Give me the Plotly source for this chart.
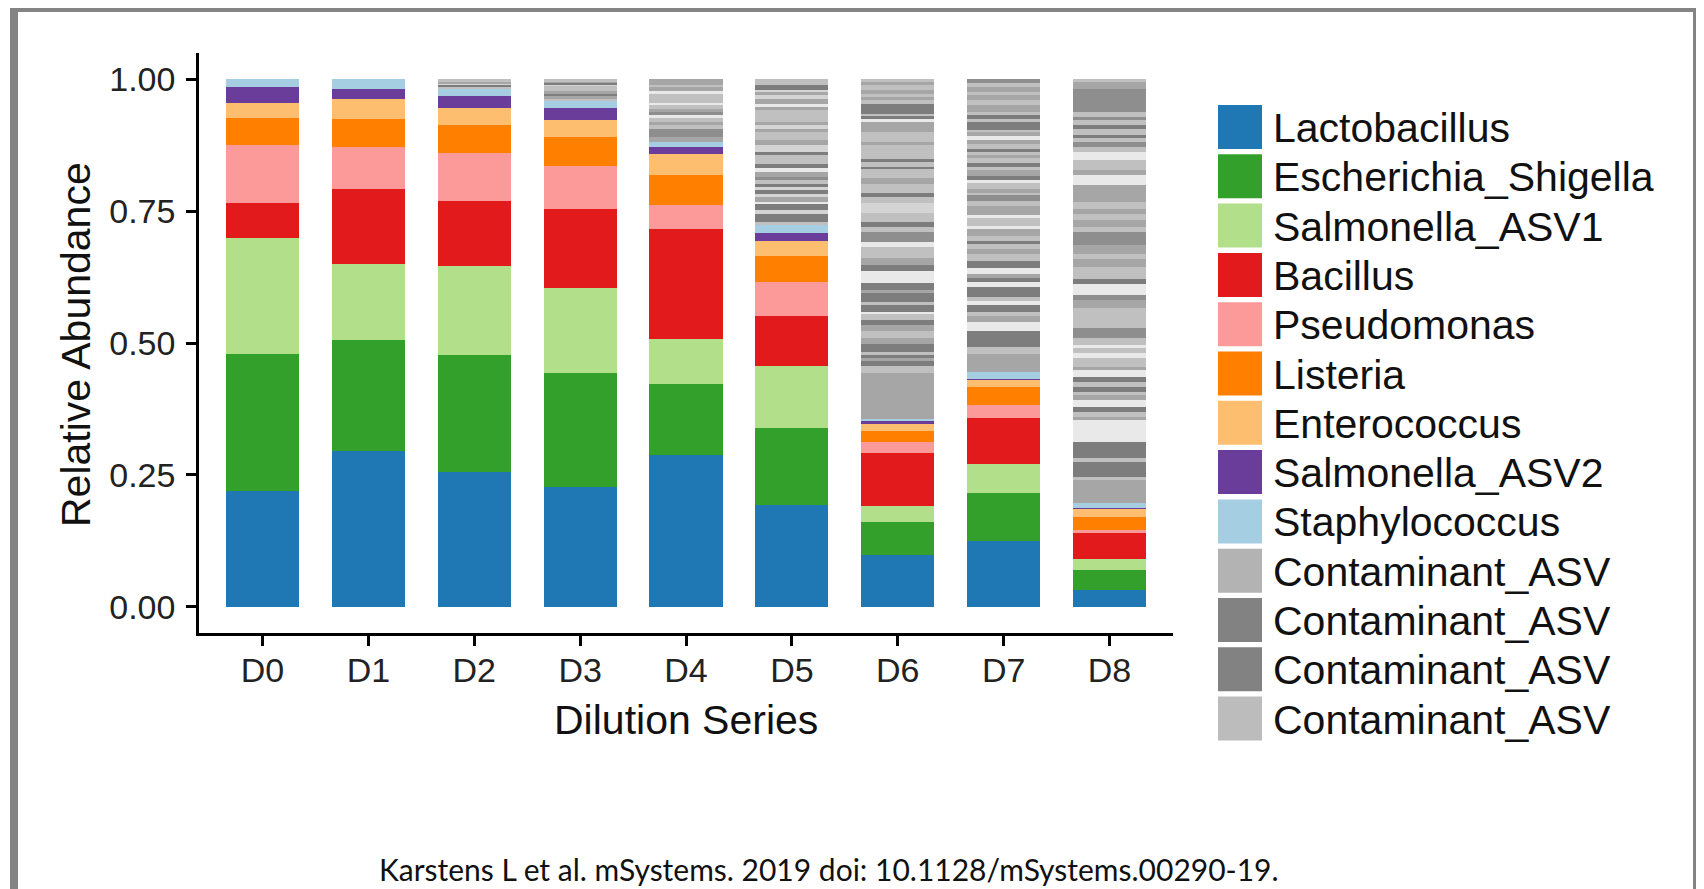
import plotly.graph_objects as go

# ---------------- data ----------------
categories = ["D0", "D1", "D2", "D3", "D4", "D5", "D6", "D7", "D8"]

taxa_names = ["Lactobacillus", "Escherichia_Shigella", "Salmonella_ASV1", "Bacillus",
              "Pseudomonas", "Listeria", "Enterococcus", "Salmonella_ASV2", "Staphylococcus"]
taxa_colors = ["#1F78B4", "#33A02C", "#B2DF8A", "#E31A1C",
               "#FB9A99", "#FF7F00", "#FDBF6F", "#6A3D9A", "#A6CEE3"]

lactobacillus        = [0.220, 0.296, 0.255, 0.226, 0.288, 0.193, 0.097, 0.124, 0.031]
escherichia_shigella = [0.260, 0.210, 0.222, 0.218, 0.134, 0.145, 0.063, 0.091, 0.039]
salmonella_asv1      = [0.219, 0.144, 0.169, 0.160, 0.086, 0.119, 0.030, 0.055, 0.020]
bacillus             = [0.066, 0.143, 0.123, 0.151, 0.208, 0.095, 0.101, 0.087, 0.049]
pseudomonas          = [0.111, 0.079, 0.092, 0.080, 0.045, 0.063, 0.022, 0.025, 0.006]
listeria             = [0.051, 0.053, 0.052, 0.056, 0.058, 0.050, 0.021, 0.035, 0.025]
enterococcus         = [0.028, 0.038, 0.032, 0.031, 0.039, 0.028, 0.013, 0.013, 0.016]
salmonella_asv2      = [0.031, 0.019, 0.024, 0.024, 0.013, 0.016, 0.006, 0.002, 0.001]
staphylococcus       = [0.014, 0.018, 0.013, 0.013, 0.010, 0.014, 0.003, 0.013, 0.009]

# total share of all contaminant ASVs per sample
contaminant_share = [0.0, 0.0, 0.018, 0.041, 0.119, 0.277, 0.644, 0.555, 0.804]

# contaminant ASV stripes, bottom to top: (relative height, grey shade code)
stripes_D2 = [(9, 'l'), (5, 'k'), (4, 'p'), (6, 'm'), (6, 'l')]
stripes_D3 = [(7, 'l'), (8, 'm'), (7, 'k'), (10, 'm'), (15, 'l'), (7, 'p'), (5, 'k'), (5, 'm'), (6, 'l')]
stripes_D4 = [(15, 'm'), (25, 'd'), (10, 'l'), (10, 'm'), (12, 'l'), (8, 'w'), (10, 'd'), (10, 'm'),
              (10, 'l'), (8, 'w'), (27, 'l'), (8, 'w'), (15, 'm'), (4, 'l'), (16, 'm')]
stripes_D5 = [(10, 'l'), (25, 'k'), (10, 'p'), (20, 'k'), (5, 'w'), (15, 'm'), (10, 'p'), (10, 'k'),
              (10, 'p'), (10, 'k'), (10, 'l'), (10, 'd'), (15, 'm'), (12, 'w'), (13, 'k'), (27, 'l'),
              (8, 'k'), (20, 'p'), (15, 'm'), (25, 'l'), (10, 'm'), (10, 'p'), (10, 'm'), (35, 'l'),
              (10, 'm'), (10, 'w'), (15, 'm'), (10, 'p'), (10, 'm'), (7, 'p'), (13, 'k'), (18, 'l')]
stripes_D6 = [(138, 'm'), (20, 'l'), (15, 'k'), (10, 'm'), (10, 'k'), (7, 'l'), (26, 'k'), (17, 'm'),
              (20, 'l'), (20, 'm'), (15, 'k'), (20, 'l'), (5, 'w'), (20, 'k'), (10, 'l'), (25, 'k'),
              (10, 'm'), (20, 'k'), (37, 'w'), (18, 'k'), (20, 'm'), (35, 'l'), (15, 'w'), (30, 'd'),
              (15, 'l'), (15, 'k'), (25, 'l'), (30, 'p'), (20, 'l'), (10, 'k'), (27, 'l'), (18, 'm'),
              (28, 'l'), (7, 'k'), (15, 'l'), (10, 'k'), (40, 'l'), (10, 'm'), (30, 'l'), (30, 'm'),
              (10, 'w'), (8, 'k'), (7, 'l'), (30, 'k'), (10, 'l'), (10, 'm'), (10, 'l'), (10, 'm'),
              (15, 'l'), (10, 'm'), (8, 'l')]
stripes_D7 = [(55, 'm'), (20, 'l'), (50, 'k'), (25, 'w'), (20, 'm'), (10, 'l'), (23, 'k'), (12, 'w'),
              (10, 'l'), (32, 'k'), (16, 'w'), (12, 'k'), (10, 'm'), (20, 'w'), (20, 'k'), (20, 'l'),
              (15, 'm'), (15, 'l'), (10, 'k'), (15, 'l'), (20, 'm'), (10, 'w'), (25, 'l'), (10, 'w'),
              (25, 'm'), (15, 'l'), (18, 'd'), (7, 'l'), (13, 'm'), (17, 'l'), (10, 'w'), (10, 'k'),
              (20, 'm'), (10, 'l'), (10, 'k'), (15, 'l'), (10, 'm'), (10, 'l'), (8, 'k'), (14, 'l'),
              (13, 'm'), (13, 'w'), (10, 'm'), (7, 'l'), (23, 'k'), (10, 'l'), (12, 'k'), (10, 'l'),
              (20, 'm'), (15, 'l'), (15, 'm'), (10, 'l'), (15, 'm'), (13, 'l'), (10, 'd')]
stripes_D8 = [(70, 'm'), (10, 'l'), (45, 'k'), (10, 'l'), (50, 'k'), (65, 'w'), (10, 'm'), (15, 'l'),
              (15, 'k'), (20, 'w'), (15, 'm'), (10, 'l'), (15, 'k'), (15, 'l'), (15, 'k'), (20, 'w'),
              (10, 'm'), (25, 'l'), (15, 'w'), (15, 'l'), (10, 'w'), (20, 'l'), (30, 'd'), (60, 'l'),
              (25, 'm'), (15, 'd'), (35, 'w'), (15, 'k'), (35, 'l'), (25, 'm'), (15, 'l'), (25, 'm'),
              (40, 'd'), (15, 'l'), (20, 'm'), (20, 'l'), (15, 'm'), (20, 'l'), (50, 'm'), (30, 'w'),
              (15, 'm'), (30, 'l'), (25, 'w'), (15, 'l'), (15, 'd'), (12, 'l'), (10, 'k'), (18, 'l'),
              (10, 'k'), (15, 'l'), (10, 'd'), (15, 'l'), (70, 'd'), (20, 'm'), (8, 'l')]

shade_colors = {'k': '#7d7d7d', 'd': '#8e8e8e', 'm': '#a6a6a6',
                'l': '#c0c0c0', 'p': '#d4d4d4', 'w': '#e9e9e9'}

legend_labels = taxa_names + ["Contaminant_ASV"] * 4
legend_colors = taxa_colors + ["#b3b3b3", "#828282", "#828282", "#bcbcbc"]

y_tick_values = [0.0, 0.25, 0.50, 0.75, 1.00]
y_tick_labels = ["0.00", "0.25", "0.50", "0.75", "1.00"]

caption = "Karstens L et al. mSystems. 2019 doi: 10.1128/mSystems.00290-19."

# ---------------- figure ----------------
W, H = 1704, 889
OFF = 8                      # page body margin shifts the figure by 8 px
ML, MT = 199 - OFF, 53 - OFF
MR, MB = W - (1173 - OFF), H - (633 - OFF)
PW, PH = W - ML - MR, H - MT - MB
FONT = "Liberation Sans, Arial, sans-serif"
BAR_W = 0.69


def px_x(px):
    # px given in page (screenshot) coordinates
    return (px - OFF - ML) / PW


def px_y(py):
    return (H - MB - (py - OFF)) / PH


taxa_values = [lactobacillus, escherichia_shigella, salmonella_asv1, bacillus,
               pseudomonas, listeria, enterococcus, salmonella_asv2, staphylococcus]

fig = go.Figure()
for name, vals, col in zip(taxa_names, taxa_values, taxa_colors):
    fig.add_trace(go.Bar(x=categories, y=vals, name=name, width=BAR_W,
                         marker=dict(color=col, line=dict(width=0)), showlegend=False))

contaminant_stripes = [("D2", stripes_D2), ("D3", stripes_D3), ("D4", stripes_D4),
                       ("D5", stripes_D5), ("D6", stripes_D6), ("D7", stripes_D7),
                       ("D8", stripes_D8)]
for cat, stripes in contaminant_stripes:
    total = contaminant_share[categories.index(cat)]
    s = sum(h for h, _ in stripes)
    for h, code in stripes:
        fig.add_trace(go.Bar(x=[cat], y=[total * h / s], name="Contaminant_ASV", width=BAR_W,
                             marker=dict(color=shade_colors[code], line=dict(width=0)),
                             showlegend=False))

shapes = []
annotations = []

# legend drawn manually (large swatches like the original)
for k, (lab, col) in enumerate(zip(legend_labels, legend_colors)):
    top = 105 + k * 49.3
    shapes.append(dict(type="rect", xref="paper", yref="paper",
                       x0=px_x(1218), x1=px_x(1262), y0=px_y(top + 44), y1=px_y(top),
                       fillcolor=col, line=dict(width=0), layer="above"))
    annotations.append(dict(xref="paper", yref="paper", x=px_x(1271), y=px_y(top + 23),
                            xanchor="left", yanchor="middle", showarrow=False, text=lab,
                            font=dict(family=FONT, size=41, color="#111111")))

# axis titles
annotations.append(dict(xref="paper", yref="paper", x=px_x(686), y=px_y(720),
                        xanchor="center", yanchor="middle", showarrow=False,
                        text="Dilution Series", font=dict(family=FONT, size=41, color="#111111")))
annotations.append(dict(xref="paper", yref="paper", x=px_x(76), y=px_y(344),
                        xanchor="center", yanchor="middle", showarrow=False, textangle=-90,
                        text="Relative Abundance", font=dict(family=FONT, size=41, color="#111111")))

# caption
annotations.append(dict(xref="paper", yref="paper", x=px_x(829), y=px_y(869),
                        xanchor="center", yanchor="middle", showarrow=False, text=caption,
                        font=dict(family="Lato, sans-serif", size=30, color="#111111")))

# grey slide frame
frame = "#848484"
shapes.append(dict(type="rect", xref="paper", yref="paper", x0=px_x(10), x1=px_x(1703),
                   y0=px_y(12), y1=px_y(0), fillcolor=frame, line=dict(width=0), layer="above"))
shapes.append(dict(type="rect", xref="paper", yref="paper", x0=px_x(10), x1=px_x(18),
                   y0=px_y(900), y1=px_y(3), fillcolor=frame, line=dict(width=0), layer="above"))
shapes.append(dict(type="rect", xref="paper", yref="paper", x0=px_x(1693), x1=px_x(1702),
                   y0=px_y(900), y1=px_y(3), fillcolor=frame, line=dict(width=0), layer="above"))

fig.update_layout(
    width=W, height=H, autosize=False,
    margin=dict(l=ML, r=MR, t=MT, b=MB, pad=0),
    paper_bgcolor="white", plot_bgcolor="white",
    barmode="stack",
    showlegend=False,
    shapes=shapes, annotations=annotations,
    xaxis=dict(type="category", categoryorder="array", categoryarray=categories,
               range=[-0.6, 8.6], showline=True, linecolor="black", linewidth=2.5,
               ticks="outside", ticklen=10, tickwidth=2.5, tickcolor="black",
               ticklabelstandoff=-5,
               showgrid=False, zeroline=False,
               tickfont=dict(family=FONT, size=34, color="#222222")),
    yaxis=dict(range=[-0.05, 1.05], tickvals=y_tick_values, ticktext=y_tick_labels,
               showline=True, linecolor="black", linewidth=2.5,
               ticks="outside", ticklen=10, tickwidth=2.5, tickcolor="black",
               ticklabelstandoff=4,
               showgrid=False, zeroline=False,
               tickfont=dict(family=FONT, size=34, color="#222222")),
)

fig.write_html("out.html")
